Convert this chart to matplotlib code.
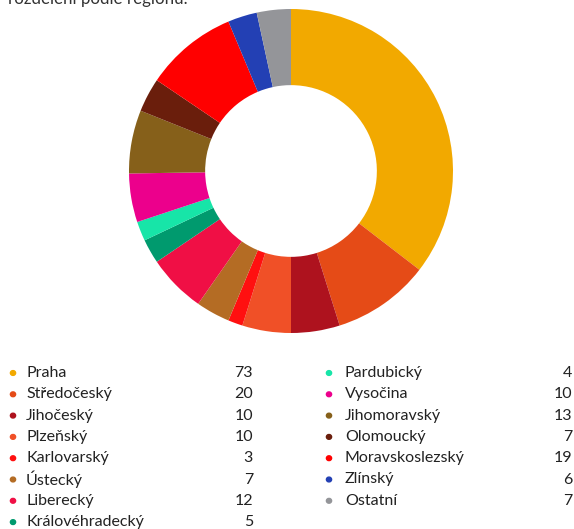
import matplotlib.pyplot as plt

regions = ["Praha", "Středočeský", "Jihočeský", "Plzeňský", "Karlovarský",
           "Ústecký", "Liberecký", "Královéhradecký", "Pardubický", "Vysočina",
           "Jihomoravský", "Olomoucký", "Moravskoslezský", "Zlínský", "Ostatní"]
counts = [73, 20, 10, 10, 3, 7, 12, 5, 4, 10, 13, 7, 19, 6, 7]
colors = ["#F2A900", "#E54B17", "#AE121E", "#F05027", "#FF1010",
          "#B46C24", "#F00F45", "#009A6E", "#17E5A8", "#EC008C",
          "#86601A", "#6A1E0C", "#FF0000", "#2340B4", "#949599"]

W, H = 574, 529
fig = plt.figure(figsize=(W / 100, H / 100), dpi=100)
plt.rcParams['font.family'] = ['Lato', 'DejaVu Sans']

# donut, centre at (291, 171) px, outer radius 162 px
cx, cy, r = 291, 171, 162
ax = fig.add_axes([(cx - r) / W, (H - cy - r) / H, 2 * r / W, 2 * r / H])
ax.pie(counts, colors=colors, startangle=90, counterclock=False,
       radius=1, wedgeprops=dict(width=0.47, linewidth=0))
ax.set_xlim(-1, 1)
ax.set_ylim(-1, 1)
ax.set_aspect("equal")
ax.axis("off")

# title (cut off at the top in the original)
fig.text(8 / W, 1 - 4 / H, "rozdělení podle regionu.", fontsize=12.2,
         color="#333333", va="baseline", ha="left")

# legend, two columns
text_col = "#222222"
row_h = 21.3
for i, (name, val, col) in enumerate(zip(regions, counts, colors)):
    if i < 8:
        mx, tx, vx, row = 13, 26, 253, i
    else:
        mx, tx, vx, row = 329, 345, 572, i - 8
    y = 1 - (373 + row * row_h) / H
    fig.patches.append(plt.Circle((mx / W, y), 2.6 / W, color=col,
                                  transform=fig.transFigure))
    fig.text(tx / W, y, name, fontsize=11.5, color=text_col, va="center", ha="left")
    fig.text(vx / W, y, str(val), fontsize=11.5, color=text_col, va="center", ha="right")

fig.savefig("out.png", dpi=100)
